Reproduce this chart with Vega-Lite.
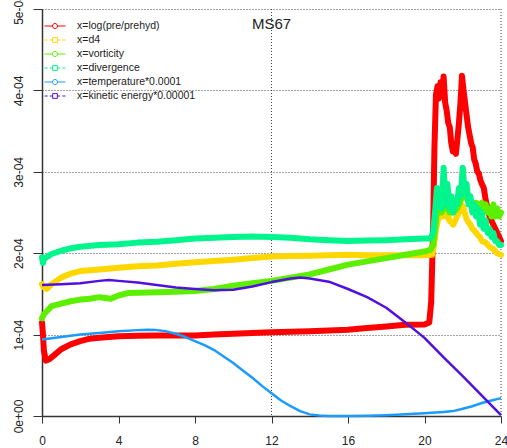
{
  "$schema": "https://vega.github.io/schema/vega-lite/v6.json",
  "width": 459,
  "height": 407,
  "autosize": {"type": "none"},
  "padding": {"left": 42, "top": 9, "right": 6, "bottom": 32},
  "background": "white",
  "config": {
    "font": "Liberation Sans",
    "view": {"stroke": null},
    "axis": {"labelFont": "Liberation Sans", "labelColor": "#222", "tickColor": "#333", "domainColor": "#333"}
  },
  "title": {"text": "MS67", "fontSize": 15, "fontWeight": "normal", "color": "#222", "anchor": "middle", "frame": "group", "offset": 0, "dy": 38, "font": "Liberation Sans"},
  "datasets": {
    "series": [
      {"s":"x=log(pre/prehyd)","t":0,"v":1.15e-4},{"s":"x=log(pre/prehyd)","t":0.05,"v":1.0e-4},{"s":"x=log(pre/prehyd)","t":0.1,"v":0.8e-4},{"s":"x=log(pre/prehyd)","t":0.2,"v":0.68e-4},{"s":"x=log(pre/prehyd)","t":0.4,"v":0.7e-4},{"s":"x=log(pre/prehyd)","t":0.7,"v":0.76e-4},{"s":"x=log(pre/prehyd)","t":1,"v":0.82e-4},{"s":"x=log(pre/prehyd)","t":1.5,"v":0.88e-4},{"s":"x=log(pre/prehyd)","t":2,"v":0.92e-4},{"s":"x=log(pre/prehyd)","t":2.5,"v":0.95e-4},{"s":"x=log(pre/prehyd)","t":3,"v":0.96e-4},{"s":"x=log(pre/prehyd)","t":4,"v":0.98e-4},{"s":"x=log(pre/prehyd)","t":5,"v":0.985e-4},{"s":"x=log(pre/prehyd)","t":6,"v":0.99e-4},{"s":"x=log(pre/prehyd)","t":7,"v":0.99e-4},{"s":"x=log(pre/prehyd)","t":8,"v":0.99e-4},{"s":"x=log(pre/prehyd)","t":9,"v":1.0e-4},{"s":"x=log(pre/prehyd)","t":10,"v":1.01e-4},{"s":"x=log(pre/prehyd)","t":11,"v":1.02e-4},{"s":"x=log(pre/prehyd)","t":12,"v":1.03e-4},{"s":"x=log(pre/prehyd)","t":13,"v":1.035e-4},{"s":"x=log(pre/prehyd)","t":14,"v":1.04e-4},{"s":"x=log(pre/prehyd)","t":15,"v":1.05e-4},{"s":"x=log(pre/prehyd)","t":16,"v":1.06e-4},{"s":"x=log(pre/prehyd)","t":17,"v":1.08e-4},{"s":"x=log(pre/prehyd)","t":18,"v":1.1e-4},{"s":"x=log(pre/prehyd)","t":19,"v":1.12e-4},{"s":"x=log(pre/prehyd)","t":20,"v":1.125e-4},{"s":"x=log(pre/prehyd)","t":20.25,"v":1.15e-4},{"s":"x=log(pre/prehyd)","t":20.35,"v":1.4e-4},{"s":"x=log(pre/prehyd)","t":20.45,"v":2.3e-4},{"s":"x=log(pre/prehyd)","t":20.52,"v":3.3e-4},{"s":"x=log(pre/prehyd)","t":20.6,"v":3.95e-4},{"s":"x=log(pre/prehyd)","t":20.68,"v":4.05e-4},{"s":"x=log(pre/prehyd)","t":20.76,"v":3.9e-4},{"s":"x=log(pre/prehyd)","t":20.84,"v":4.1e-4},{"s":"x=log(pre/prehyd)","t":20.92,"v":3.95e-4},{"s":"x=log(pre/prehyd)","t":21.0,"v":4.17e-4},{"s":"x=log(pre/prehyd)","t":21.08,"v":3.85e-4},{"s":"x=log(pre/prehyd)","t":21.16,"v":3.75e-4},{"s":"x=log(pre/prehyd)","t":21.24,"v":3.6e-4},{"s":"x=log(pre/prehyd)","t":21.32,"v":3.55e-4},{"s":"x=log(pre/prehyd)","t":21.4,"v":3.35e-4},{"s":"x=log(pre/prehyd)","t":21.48,"v":3.25e-4},{"s":"x=log(pre/prehyd)","t":21.56,"v":3.3e-4},{"s":"x=log(pre/prehyd)","t":21.64,"v":3.22e-4},{"s":"x=log(pre/prehyd)","t":21.72,"v":3.4e-4},{"s":"x=log(pre/prehyd)","t":21.8,"v":3.6e-4},{"s":"x=log(pre/prehyd)","t":21.88,"v":3.85e-4},{"s":"x=log(pre/prehyd)","t":21.96,"v":4.18e-4},{"s":"x=log(pre/prehyd)","t":22.04,"v":4.0e-4},{"s":"x=log(pre/prehyd)","t":22.12,"v":3.85e-4},{"s":"x=log(pre/prehyd)","t":22.2,"v":3.7e-4},{"s":"x=log(pre/prehyd)","t":22.28,"v":3.55e-4},{"s":"x=log(pre/prehyd)","t":22.36,"v":3.45e-4},{"s":"x=log(pre/prehyd)","t":22.44,"v":3.35e-4},{"s":"x=log(pre/prehyd)","t":22.52,"v":3.3e-4},{"s":"x=log(pre/prehyd)","t":22.6,"v":3.15e-4},{"s":"x=log(pre/prehyd)","t":22.68,"v":3.1e-4},{"s":"x=log(pre/prehyd)","t":22.76,"v":3.0e-4},{"s":"x=log(pre/prehyd)","t":22.84,"v":2.98e-4},{"s":"x=log(pre/prehyd)","t":22.92,"v":2.9e-4},{"s":"x=log(pre/prehyd)","t":23.0,"v":2.85e-4},{"s":"x=log(pre/prehyd)","t":23.1,"v":2.8e-4},{"s":"x=log(pre/prehyd)","t":23.2,"v":2.65e-4},{"s":"x=log(pre/prehyd)","t":23.3,"v":2.55e-4},{"s":"x=log(pre/prehyd)","t":23.4,"v":2.45e-4},{"s":"x=log(pre/prehyd)","t":23.5,"v":2.4e-4},{"s":"x=log(pre/prehyd)","t":23.6,"v":2.35e-4},{"s":"x=log(pre/prehyd)","t":23.8,"v":2.25e-4},{"s":"x=log(pre/prehyd)","t":24,"v":2.15e-4},

      {"s":"x=d4","t":0,"v":1.62e-4},{"s":"x=d4","t":0.1,"v":1.58e-4},{"s":"x=d4","t":0.25,"v":1.56e-4},{"s":"x=d4","t":0.5,"v":1.62e-4},{"s":"x=d4","t":1,"v":1.7e-4},{"s":"x=d4","t":1.5,"v":1.75e-4},{"s":"x=d4","t":2,"v":1.78e-4},{"s":"x=d4","t":3,"v":1.8e-4},{"s":"x=d4","t":4,"v":1.82e-4},{"s":"x=d4","t":5,"v":1.84e-4},{"s":"x=d4","t":6,"v":1.85e-4},{"s":"x=d4","t":7,"v":1.87e-4},{"s":"x=d4","t":8,"v":1.89e-4},{"s":"x=d4","t":9,"v":1.905e-4},{"s":"x=d4","t":10,"v":1.92e-4},{"s":"x=d4","t":11,"v":1.94e-4},{"s":"x=d4","t":12,"v":1.96e-4},{"s":"x=d4","t":13,"v":1.965e-4},{"s":"x=d4","t":14,"v":1.97e-4},{"s":"x=d4","t":15,"v":1.975e-4},{"s":"x=d4","t":16,"v":1.98e-4},{"s":"x=d4","t":17,"v":1.975e-4},{"s":"x=d4","t":18,"v":1.975e-4},{"s":"x=d4","t":19,"v":1.975e-4},{"s":"x=d4","t":20,"v":1.975e-4},{"s":"x=d4","t":20.4,"v":1.98e-4},{"s":"x=d4","t":20.5,"v":2.1e-4},{"s":"x=d4","t":20.6,"v":2.3e-4},{"s":"x=d4","t":20.7,"v":2.4e-4},{"s":"x=d4","t":20.8,"v":2.5e-4},{"s":"x=d4","t":20.9,"v":2.45e-4},{"s":"x=d4","t":21,"v":2.55e-4},{"s":"x=d4","t":21.1,"v":2.45e-4},{"s":"x=d4","t":21.2,"v":2.5e-4},{"s":"x=d4","t":21.3,"v":2.4e-4},{"s":"x=d4","t":21.4,"v":2.38e-4},{"s":"x=d4","t":21.5,"v":2.35e-4},{"s":"x=d4","t":21.6,"v":2.4e-4},{"s":"x=d4","t":21.7,"v":2.45e-4},{"s":"x=d4","t":21.8,"v":2.5e-4},{"s":"x=d4","t":21.9,"v":2.6e-4},{"s":"x=d4","t":22,"v":2.58e-4},{"s":"x=d4","t":22.1,"v":2.5e-4},{"s":"x=d4","t":22.2,"v":2.42e-4},{"s":"x=d4","t":22.3,"v":2.38e-4},{"s":"x=d4","t":22.4,"v":2.35e-4},{"s":"x=d4","t":22.5,"v":2.3e-4},{"s":"x=d4","t":22.6,"v":2.28e-4},{"s":"x=d4","t":22.7,"v":2.25e-4},{"s":"x=d4","t":22.8,"v":2.22e-4},{"s":"x=d4","t":22.9,"v":2.2e-4},{"s":"x=d4","t":23,"v":2.15e-4},{"s":"x=d4","t":23.2,"v":2.13e-4},{"s":"x=d4","t":23.4,"v":2.08e-4},{"s":"x=d4","t":23.6,"v":2.05e-4},{"s":"x=d4","t":23.8,"v":2.0e-4},{"s":"x=d4","t":24,"v":1.98e-4},

      {"s":"x=vorticity","t":0,"v":1.2e-4},{"s":"x=vorticity","t":0.1,"v":1.25e-4},{"s":"x=vorticity","t":0.3,"v":1.3e-4},{"s":"x=vorticity","t":0.5,"v":1.35e-4},{"s":"x=vorticity","t":1,"v":1.38e-4},{"s":"x=vorticity","t":1.5,"v":1.41e-4},{"s":"x=vorticity","t":2,"v":1.43e-4},{"s":"x=vorticity","t":2.5,"v":1.44e-4},{"s":"x=vorticity","t":3,"v":1.46e-4},{"s":"x=vorticity","t":3.3,"v":1.45e-4},{"s":"x=vorticity","t":3.6,"v":1.44e-4},{"s":"x=vorticity","t":4,"v":1.48e-4},{"s":"x=vorticity","t":4.5,"v":1.51e-4},{"s":"x=vorticity","t":5,"v":1.515e-4},{"s":"x=vorticity","t":6,"v":1.52e-4},{"s":"x=vorticity","t":7,"v":1.525e-4},{"s":"x=vorticity","t":8,"v":1.535e-4},{"s":"x=vorticity","t":9,"v":1.56e-4},{"s":"x=vorticity","t":10,"v":1.6e-4},{"s":"x=vorticity","t":11,"v":1.63e-4},{"s":"x=vorticity","t":12,"v":1.66e-4},{"s":"x=vorticity","t":13,"v":1.7e-4},{"s":"x=vorticity","t":14,"v":1.74e-4},{"s":"x=vorticity","t":15,"v":1.8e-4},{"s":"x=vorticity","t":16,"v":1.86e-4},{"s":"x=vorticity","t":17,"v":1.9e-4},{"s":"x=vorticity","t":18,"v":1.94e-4},{"s":"x=vorticity","t":19,"v":1.98e-4},{"s":"x=vorticity","t":20,"v":2.02e-4},{"s":"x=vorticity","t":20.3,"v":2.04e-4},{"s":"x=vorticity","t":20.45,"v":2.1e-4},{"s":"x=vorticity","t":20.55,"v":2.3e-4},{"s":"x=vorticity","t":20.65,"v":2.5e-4},{"s":"x=vorticity","t":20.8,"v":2.55e-4},{"s":"x=vorticity","t":20.9,"v":2.5e-4},{"s":"x=vorticity","t":21,"v":2.65e-4},{"s":"x=vorticity","t":21.1,"v":2.55e-4},{"s":"x=vorticity","t":21.2,"v":2.6e-4},{"s":"x=vorticity","t":21.3,"v":2.5e-4},{"s":"x=vorticity","t":21.5,"v":2.5e-4},{"s":"x=vorticity","t":21.7,"v":2.55e-4},{"s":"x=vorticity","t":21.9,"v":2.65e-4},{"s":"x=vorticity","t":22,"v":2.8e-4},{"s":"x=vorticity","t":22.1,"v":2.7e-4},{"s":"x=vorticity","t":22.3,"v":2.65e-4},{"s":"x=vorticity","t":22.5,"v":2.6e-4},{"s":"x=vorticity","t":22.7,"v":2.62e-4},{"s":"x=vorticity","t":22.9,"v":2.58e-4},{"s":"x=vorticity","t":23,"v":2.62e-4},{"s":"x=vorticity","t":23.1,"v":2.55e-4},{"s":"x=vorticity","t":23.2,"v":2.6e-4},{"s":"x=vorticity","t":23.3,"v":2.5e-4},{"s":"x=vorticity","t":23.4,"v":2.55e-4},{"s":"x=vorticity","t":23.5,"v":2.45e-4},{"s":"x=vorticity","t":23.6,"v":2.6e-4},{"s":"x=vorticity","t":23.7,"v":2.45e-4},{"s":"x=vorticity","t":23.8,"v":2.55e-4},{"s":"x=vorticity","t":23.9,"v":2.45e-4},{"s":"x=vorticity","t":24,"v":2.5e-4},

      {"s":"x=divergence","t":0,"v":1.95e-4},{"s":"x=divergence","t":0.05,"v":1.88e-4},{"s":"x=divergence","t":0.1,"v":1.93e-4},{"s":"x=divergence","t":0.3,"v":1.96e-4},{"s":"x=divergence","t":0.5,"v":1.99e-4},{"s":"x=divergence","t":1,"v":2.03e-4},{"s":"x=divergence","t":1.5,"v":2.06e-4},{"s":"x=divergence","t":2,"v":2.08e-4},{"s":"x=divergence","t":3,"v":2.1e-4},{"s":"x=divergence","t":4,"v":2.11e-4},{"s":"x=divergence","t":5,"v":2.13e-4},{"s":"x=divergence","t":6,"v":2.14e-4},{"s":"x=divergence","t":7,"v":2.16e-4},{"s":"x=divergence","t":8,"v":2.18e-4},{"s":"x=divergence","t":9,"v":2.19e-4},{"s":"x=divergence","t":10,"v":2.2e-4},{"s":"x=divergence","t":11,"v":2.205e-4},{"s":"x=divergence","t":12,"v":2.2e-4},{"s":"x=divergence","t":13,"v":2.19e-4},{"s":"x=divergence","t":14,"v":2.17e-4},{"s":"x=divergence","t":15,"v":2.16e-4},{"s":"x=divergence","t":16,"v":2.15e-4},{"s":"x=divergence","t":17,"v":2.155e-4},{"s":"x=divergence","t":18,"v":2.16e-4},{"s":"x=divergence","t":19,"v":2.17e-4},{"s":"x=divergence","t":20,"v":2.18e-4},{"s":"x=divergence","t":20.3,"v":2.18e-4},{"s":"x=divergence","t":20.45,"v":2.25e-4},{"s":"x=divergence","t":20.55,"v":2.5e-4},{"s":"x=divergence","t":20.65,"v":2.8e-4},{"s":"x=divergence","t":20.7,"v":2.6e-4},{"s":"x=divergence","t":20.8,"v":2.75e-4},{"s":"x=divergence","t":20.9,"v":2.55e-4},{"s":"x=divergence","t":21,"v":3.05e-4},{"s":"x=divergence","t":21.1,"v":2.6e-4},{"s":"x=divergence","t":21.2,"v":2.85e-4},{"s":"x=divergence","t":21.3,"v":2.55e-4},{"s":"x=divergence","t":21.4,"v":2.7e-4},{"s":"x=divergence","t":21.5,"v":2.5e-4},{"s":"x=divergence","t":21.6,"v":2.65e-4},{"s":"x=divergence","t":21.7,"v":2.6e-4},{"s":"x=divergence","t":21.8,"v":2.8e-4},{"s":"x=divergence","t":21.9,"v":2.7e-4},{"s":"x=divergence","t":22,"v":3.05e-4},{"s":"x=divergence","t":22.1,"v":2.75e-4},{"s":"x=divergence","t":22.2,"v":2.85e-4},{"s":"x=divergence","t":22.3,"v":2.6e-4},{"s":"x=divergence","t":22.4,"v":2.7e-4},{"s":"x=divergence","t":22.5,"v":2.5e-4},{"s":"x=divergence","t":22.6,"v":2.6e-4},{"s":"x=divergence","t":22.7,"v":2.45e-4},{"s":"x=divergence","t":22.8,"v":2.55e-4},{"s":"x=divergence","t":22.9,"v":2.35e-4},{"s":"x=divergence","t":23,"v":2.5e-4},{"s":"x=divergence","t":23.1,"v":2.3e-4},{"s":"x=divergence","t":23.2,"v":2.4e-4},{"s":"x=divergence","t":23.3,"v":2.25e-4},{"s":"x=divergence","t":23.4,"v":2.3e-4},{"s":"x=divergence","t":23.5,"v":2.2e-4},{"s":"x=divergence","t":23.6,"v":2.25e-4},{"s":"x=divergence","t":23.7,"v":2.15e-4},{"s":"x=divergence","t":23.8,"v":2.15e-4},{"s":"x=divergence","t":23.9,"v":2.1e-4},{"s":"x=divergence","t":24,"v":2.1e-4},

      {"s":"x=temperature*0.0001","t":0,"v":0.94e-4},{"s":"x=temperature*0.0001","t":1,"v":0.97e-4},{"s":"x=temperature*0.0001","t":2,"v":1.0e-4},{"s":"x=temperature*0.0001","t":3,"v":1.02e-4},{"s":"x=temperature*0.0001","t":4,"v":1.04e-4},{"s":"x=temperature*0.0001","t":5,"v":1.055e-4},{"s":"x=temperature*0.0001","t":5.5,"v":1.06e-4},{"s":"x=temperature*0.0001","t":6,"v":1.055e-4},{"s":"x=temperature*0.0001","t":6.5,"v":1.04e-4},{"s":"x=temperature*0.0001","t":7,"v":1.01e-4},{"s":"x=temperature*0.0001","t":7.5,"v":0.97e-4},{"s":"x=temperature*0.0001","t":8,"v":0.92e-4},{"s":"x=temperature*0.0001","t":8.5,"v":0.87e-4},{"s":"x=temperature*0.0001","t":9,"v":0.81e-4},{"s":"x=temperature*0.0001","t":9.5,"v":0.73e-4},{"s":"x=temperature*0.0001","t":10,"v":0.65e-4},{"s":"x=temperature*0.0001","t":10.5,"v":0.56e-4},{"s":"x=temperature*0.0001","t":11,"v":0.47e-4},{"s":"x=temperature*0.0001","t":11.5,"v":0.37e-4},{"s":"x=temperature*0.0001","t":12,"v":0.28e-4},{"s":"x=temperature*0.0001","t":12.5,"v":0.19e-4},{"s":"x=temperature*0.0001","t":13,"v":0.12e-4},{"s":"x=temperature*0.0001","t":13.5,"v":0.06e-4},{"s":"x=temperature*0.0001","t":14,"v":0.02e-4},{"s":"x=temperature*0.0001","t":14.5,"v":0.005e-4},{"s":"x=temperature*0.0001","t":15,"v":0},{"s":"x=temperature*0.0001","t":16,"v":0},{"s":"x=temperature*0.0001","t":17,"v":0.003e-4},{"s":"x=temperature*0.0001","t":18,"v":0.01e-4},{"s":"x=temperature*0.0001","t":19,"v":0.02e-4},{"s":"x=temperature*0.0001","t":20,"v":0.035e-4},{"s":"x=temperature*0.0001","t":21,"v":0.05e-4},{"s":"x=temperature*0.0001","t":21.5,"v":0.06e-4},{"s":"x=temperature*0.0001","t":22,"v":0.09e-4},{"s":"x=temperature*0.0001","t":22.5,"v":0.12e-4},{"s":"x=temperature*0.0001","t":23,"v":0.16e-4},{"s":"x=temperature*0.0001","t":23.5,"v":0.19e-4},{"s":"x=temperature*0.0001","t":24,"v":0.22e-4},

      {"s":"x=kinetic energy*0.00001","t":0,"v":1.61e-4},{"s":"x=kinetic energy*0.00001","t":1,"v":1.62e-4},{"s":"x=kinetic energy*0.00001","t":2,"v":1.63e-4},{"s":"x=kinetic energy*0.00001","t":3,"v":1.66e-4},{"s":"x=kinetic energy*0.00001","t":3.5,"v":1.67e-4},{"s":"x=kinetic energy*0.00001","t":4,"v":1.66e-4},{"s":"x=kinetic energy*0.00001","t":5,"v":1.64e-4},{"s":"x=kinetic energy*0.00001","t":6,"v":1.61e-4},{"s":"x=kinetic energy*0.00001","t":7,"v":1.58e-4},{"s":"x=kinetic energy*0.00001","t":8,"v":1.56e-4},{"s":"x=kinetic energy*0.00001","t":9,"v":1.545e-4},{"s":"x=kinetic energy*0.00001","t":10,"v":1.55e-4},{"s":"x=kinetic energy*0.00001","t":11,"v":1.59e-4},{"s":"x=kinetic energy*0.00001","t":12,"v":1.645e-4},{"s":"x=kinetic energy*0.00001","t":13,"v":1.69e-4},{"s":"x=kinetic energy*0.00001","t":13.5,"v":1.7e-4},{"s":"x=kinetic energy*0.00001","t":14,"v":1.69e-4},{"s":"x=kinetic energy*0.00001","t":15,"v":1.65e-4},{"s":"x=kinetic energy*0.00001","t":16,"v":1.56e-4},{"s":"x=kinetic energy*0.00001","t":17,"v":1.46e-4},{"s":"x=kinetic energy*0.00001","t":18,"v":1.33e-4},{"s":"x=kinetic energy*0.00001","t":19,"v":1.15e-4},{"s":"x=kinetic energy*0.00001","t":20,"v":0.96e-4},{"s":"x=kinetic energy*0.00001","t":21,"v":0.72e-4},{"s":"x=kinetic energy*0.00001","t":22,"v":0.49e-4},{"s":"x=kinetic energy*0.00001","t":23,"v":0.25e-4},{"s":"x=kinetic energy*0.00001","t":24,"v":0.01e-4}
    ],
    "vgrid": [{"g": 12}, {"g": 24}]
  },
  "layer": [
    {
      "data": {"name": "vgrid"},
      "mark": {"type": "rule", "color": "#444", "strokeDash": [1, 2], "strokeWidth": 1},
      "encoding": {
        "x": {"field": "g", "type": "quantitative", "scale": {"domain": [0, 24]}}
      }
    },
    {
      "data": {"name": "series"},
      "transform": [{"filter": {"field": "s", "oneOf": ["x=log(pre/prehyd)", "x=d4", "x=vorticity", "x=divergence"]}}],
      "mark": {"type": "line", "strokeWidth": 6, "strokeJoin": "round", "strokeCap": "round"},
      "encoding": {
        "x": {"field": "t", "type": "quantitative", "scale": {"domain": [0, 24], "nice": false, "zero": false},
          "axis": {"values": [0, 4, 8, 12, 16, 20, 24], "title": null, "grid": false, "tickSize": 7, "labelPadding": 12, "labelFontSize": 12, "domainWidth": 1.5, "domainColor": "#333", "labelFlush": false}},
        "y": {"field": "v", "type": "quantitative", "scale": {"domain": [0, 0.0005], "nice": false},
          "axis": {"values": [0, 0.0001, 0.0002, 0.0003, 0.0004, 0.0005], "title": null, "grid": true, "gridDash": [1, 2], "gridColor": "#444", "gridOpacity": 1, "tickSize": 9, "labelPadding": 8, "labelFontSize": 12, "labelAngle": -90, "labelAlign": "center", "labelBaseline": "bottom", "domainWidth": 1.5, "domainColor": "#333",
            "labelExpr": "datum.value == 0 ? '0e+00' : replace(format(datum.value, '.0e'), 'e-', 'e-0')"}},
        "color": {"field": "s", "type": "nominal", "scale": {"domain": ["x=log(pre/prehyd)", "x=d4", "x=vorticity", "x=divergence", "x=temperature*0.0001", "x=kinetic energy*0.00001"], "range": ["#FF0000", "#FFD700", "#5CF000", "#00F58C", "#1C9BFF", "#5010E0"]}},
        "order": {"field": "t", "type": "quantitative"}
      }
    },
    {
      "data": {"name": "series"},
      "transform": [{"filter": {"field": "s", "oneOf": ["x=temperature*0.0001", "x=kinetic energy*0.00001"]}}],
      "mark": {"type": "line", "strokeWidth": 2.5, "strokeJoin": "round"},
      "encoding": {
        "x": {"field": "t", "type": "quantitative"},
        "y": {"field": "v", "type": "quantitative"},
        "color": {"field": "s", "type": "nominal"},
        "order": {"field": "t", "type": "quantitative"}
      }
    },
    {
      "data": {"name": "series"},
      "mark": {"type": "point", "filled": false, "strokeWidth": 1, "opacity": 0},
      "encoding": {
        "x": {"field": "t", "type": "quantitative"},
        "y": {"field": "v", "type": "quantitative"},
        "color": {"field": "s", "type": "nominal",
          "legend": {"title": null, "orient": "none", "legendX": 7, "legendY": 11, "padding": 0, "symbolSize": 110, "symbolStrokeWidth": 1, "symbolFillColor": "transparent", "labelFontSize": 10.5, "labelFont": "Liberation Sans", "labelColor": "#222", "labelOffset": 16, "rowPadding": 2, "symbolOpacity": 1}},
        "shape": {"field": "s", "type": "nominal",
          "scale": {"domain": ["x=log(pre/prehyd)", "x=d4", "x=vorticity", "x=divergence", "x=temperature*0.0001", "x=kinetic energy*0.00001"],
            "range": [
              "M-2,0H-0.48M0.48,0H2M0.48,0A0.48,0.48 0 1 1 -0.48,0A0.48,0.48 0 1 1 0.48,0Z",
              "M-2,0H-1.4M-1,0H-0.45M0.45,0H1M1.4,0H2M-0.45,-0.45H0.45V0.45H-0.45Z",
              "M-2,0H-0.48M0.48,0H2M0.48,0A0.48,0.48 0 1 1 -0.48,0A0.48,0.48 0 1 1 0.48,0Z",
              "M-2,0H-1.4M-1,0H-0.45M0.45,0H1M1.4,0H2M-0.45,-0.45H0.45V0.45H-0.45Z",
              "M-2,0H-0.48M0.48,0H2M0.48,0A0.48,0.48 0 1 1 -0.48,0A0.48,0.48 0 1 1 0.48,0Z",
              "M-2,0H-1.4M-1,0H-0.45M0.45,0H1M1.4,0H2M-0.45,-0.45H0.45V0.45H-0.45Z"
            ]},
          "legend": {"title": null, "orient": "none", "legendX": 7, "legendY": 11, "padding": 0, "symbolSize": 110, "symbolStrokeWidth": 1, "symbolFillColor": "transparent", "labelFontSize": 10.5, "labelFont": "Liberation Sans", "labelColor": "#222", "labelOffset": 16, "rowPadding": 2, "symbolOpacity": 1}
        }
      }
    }
  ]
}
